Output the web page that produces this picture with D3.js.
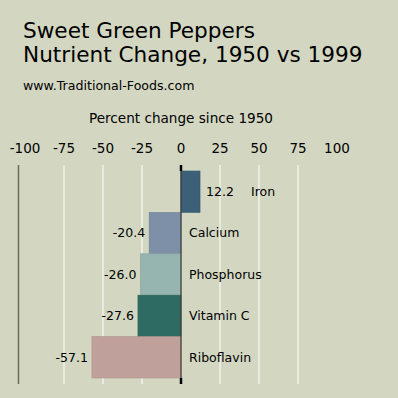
<!DOCTYPE html>
<html>
<head>
<meta charset="utf-8">
<script src="https://cdn.jsdelivr.net/npm/d3@7"></script>
<style>
  body { margin: 0; background: #d3d7c2; }
  text { font-family: "DejaVu Sans", sans-serif; fill: #000; }
</style>
</head>
<body>
<div id="chart"></div>
<script>
// Chart data
const nutrients = ["Iron", "Calcium", "Phosphorus", "Vitamin C", "Riboflavin"];
const changes = [12.2, -20.4, -26.0, -27.6, -57.1];
const barColors = ["#3d6079", "#7d90a8", "#97b5b0", "#2e6b62", "#c0a09b"];
const tickValues = [-100, -75, -50, -25, 0, 25, 50, 75, 100];
const gridValues = [-75, -50, -25, 25, 50, 75];

const width = 398, height = 398;

const svg = d3.select("#chart").append("svg")
  .attr("width", width)
  .attr("height", height);

svg.append("rect")
  .attr("width", width).attr("height", height)
  .attr("fill", "#d3d7c2");

// Titles
svg.append("text").attr("x", 23).attr("y", 38)
  .style("font-size", "21.6px").text("Sweet Green Peppers");
svg.append("text").attr("x", 23).attr("y", 62)
  .style("font-size", "21.6px").text("Nutrient Change, 1950 vs 1999");
svg.append("text").attr("x", 23).attr("y", 90)
  .style("font-size", "12.6px").text("www.Traditional-Foods.com");

// Scales
const x = d3.scaleLinear().domain([-100, 100]).range([25, 337]);
const y = d3.scaleBand().domain(nutrients).range([171, 378]).padding(0);

svg.append("text")
  .attr("x", x(0)).attr("y", 123)
  .attr("text-anchor", "middle")
  .style("font-size", "13.6px")
  .text("Percent change since 1950");

// Tick labels
svg.append("g").selectAll("text")
  .data(tickValues)
  .enter().append("text")
  .attr("x", (d) => x(d))
  .attr("y", 153)
  .attr("text-anchor", "middle")
  .style("font-size", "13.5px")
  .text((d) => d);

// Grid lines
svg.append("g").selectAll("line")
  .data(gridValues)
  .enter().append("line")
  .attr("x1", (d) => x(d)).attr("x2", (d) => x(d))
  .attr("y1", 165).attr("y2", 384)
  .attr("stroke", "#f2f2ea")
  .attr("stroke-width", 1.5);

// Left axis line
svg.append("line")
  .attr("x1", 18.5).attr("x2", 18.5)
  .attr("y1", 165).attr("y2", 384)
  .attr("stroke", "#6b6b5e")
  .attr("stroke-width", 1.5);

// Bars
svg.append("g").selectAll("rect")
  .data(nutrients)
  .enter().append("rect")
  .attr("x", (d, i) => x(Math.min(0, changes[i])))
  .attr("y", (d) => y(d))
  .attr("width", (d, i) => Math.abs(x(changes[i]) - x(0)))
  .attr("height", y.bandwidth())
  .attr("fill", (d, i) => barColors[i])
  .attr("stroke", (d, i) => d3.color(barColors[i]).darker(0.3))
  .attr("stroke-width", 0.6);

// Zero line
svg.append("line")
  .attr("x1", x(0)).attr("x2", x(0))
  .attr("y1", 165).attr("y2", 384)
  .attr("stroke", "#3a3a33").attr("stroke-width", 1.2);
svg.append("line")
  .attr("x1", x(0)).attr("x2", x(0))
  .attr("y1", 165).attr("y2", 171)
  .attr("stroke", "#000").attr("stroke-width", 2.5);
svg.append("line")
  .attr("x1", x(0)).attr("x2", x(0))
  .attr("y1", 378).attr("y2", 384)
  .attr("stroke", "#000").attr("stroke-width", 2.5);

// Value labels
svg.append("g").selectAll("text")
  .data(nutrients)
  .enter().append("text")
  .attr("x", (d, i) => changes[i] >= 0 ? x(changes[i]) + 6 : x(changes[i]) - 4)
  .attr("y", (d) => y(d) + y.bandwidth() / 2)
  .attr("dy", "0.35em")
  .attr("text-anchor", (d, i) => changes[i] >= 0 ? "start" : "end")
  .style("font-size", "12.5px")
  .text((d, i) => changes[i].toFixed(1));

// Nutrient names
svg.append("g").selectAll("text")
  .data(nutrients)
  .enter().append("text")
  .attr("x", (d, i) => changes[i] >= 0 ? 251 : x(0) + 8)
  .attr("y", (d) => y(d) + y.bandwidth() / 2)
  .attr("dy", "0.35em")
  .style("font-size", "12.5px")
  .text((d) => d);
</script>
</body>
</html>
